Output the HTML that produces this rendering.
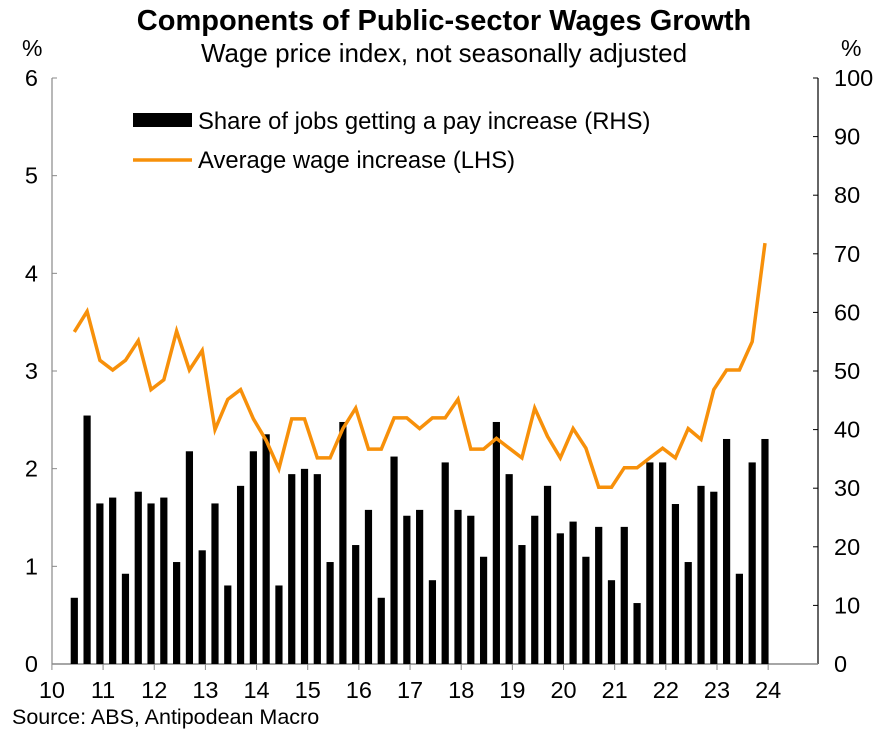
<!DOCTYPE html>
<html><head><meta charset="utf-8"><style>
body{margin:0;background:#fff;font-family:"Liberation Sans",sans-serif;}
</style></head><body>
<svg width="887" height="731" xmlns="http://www.w3.org/2000/svg" font-family="Liberation Sans, sans-serif">
<text x="444" y="30" text-anchor="middle" font-size="29" font-weight="bold">Components of Public-sector Wages Growth</text>
<text x="444" y="62" text-anchor="middle" font-size="26">Wage price index, not seasonally adjusted</text>
<text x="22" y="56" font-size="23">%</text>
<text x="841" y="56" font-size="23">%</text>
<g id="axes"></g>
<g id="bars"></g>
<g id="line"></g>
<g>
<rect x="133" y="113" width="59" height="14" fill="#000"/>
<text x="198" y="129" font-size="23.8">Share of jobs getting a pay increase (RHS)</text>
<line x1="133" y1="160" x2="192" y2="160" stroke="#f7900a" stroke-width="3.5"/>
<text x="198" y="168" font-size="23.8">Average wage increase (LHS)</text>
</g>
<text x="12" y="724" font-size="21.5">Source: ABS, Antipodean Macro</text>
</svg>
<script>
const shareRHS=[11.3,42.4,27.4,28.4,15.4,29.4,27.4,28.4,17.4,36.3,19.4,27.4,13.4,30.4,36.3,39.2,13.4,32.4,33.3,32.4,17.4,41.3,20.3,26.3,11.3,35.4,25.3,26.3,14.3,34.4,26.3,25.3,18.3,41.3,32.4,20.3,25.3,30.4,22.3,24.3,18.3,23.4,14.3,23.4,10.4,34.4,34.4,27.3,17.4,30.4,29.4,38.4,15.4,34.4,38.4];
const wageLHS=[3.40,3.61,3.11,3.01,3.11,3.31,2.81,2.91,3.41,3.01,3.21,2.40,2.71,2.81,2.51,2.29,2.00,2.51,2.51,2.11,2.11,2.41,2.62,2.20,2.20,2.52,2.52,2.41,2.52,2.52,2.71,2.20,2.20,2.31,2.21,2.11,2.62,2.33,2.11,2.41,2.21,1.81,1.81,2.01,2.01,2.11,2.21,2.11,2.41,2.30,2.81,3.01,3.01,3.30,4.31];
const yearLabels=["10","11","12","13","14","15","16","17","18","19","20","21","22","23","24"];
const leftTicks=[0,1,2,3,4,5,6];
const rightTicks=[0,10,20,30,40,50,60,70,80,90,100];
const NS="http://www.w3.org/2000/svg";
const X0=52,X1=818,Y0=664,Y1=78;
const xIdx=i=>74.3+i*12.79;
const yL=v=>Y0-(v/6)*(Y0-Y1);
const yR=v=>Y0-(v/100)*(Y0-Y1);
function mk(tag,attrs,parent){const e=document.createElementNS(NS,tag);for(const k in attrs)e.setAttribute(k,attrs[k]);parent.appendChild(e);return e;}
const axes=document.getElementById('axes');
let e;
e=mk('line',{x1:X0,y1:Y1,x2:X0,y2:Y0,stroke:'#888','stroke-width':1.2},axes);


e=mk('line',{x1:X1,y1:Y1,x2:X1,y2:Y0,stroke:'#000','stroke-width':1.2},axes);


leftTicks.forEach(v=>{
 mk('line',{x1:X0,y1:yL(v),x2:X0+5,y2:yL(v),stroke:'#888'},axes);
 const t=mk('text',{x:38,y:yL(v)+8,'text-anchor':'end','font-size':23.5},axes);t.textContent=v;
 
 
});
rightTicks.forEach(v=>{
 mk('line',{x1:X1-5,y1:yR(v),x2:X1,y2:yR(v),stroke:'#000'},axes);
 const t=mk('text',{x:834,y:yR(v)+8,'font-size':23.5},axes);t.textContent=v;
 
 
});
yearLabels.forEach((lab,k)=>{
 const x=xIdx(-1.75+4*k);
 mk('line',{x1:x,y1:Y0,x2:x,y2:Y0+6,stroke:'#888'},axes);
 const t=mk('text',{x:x,y:Y0+34,'text-anchor':'middle','font-size':23.5},axes);t.textContent=lab;
 
 
});
const bars=document.getElementById('bars');
shareRHS.forEach((v,i)=>{
 const r=mk('rect',{x:xIdx(i)-3.6,y:yR(v),width:7.2,height:Y0-yR(v),fill:'#000'},bars);
 
 
});
e=mk('line',{x1:X0,y1:Y0,x2:X1,y2:Y0,stroke:'#888','stroke-width':1.5},axes);


const pts=wageLHS.map((v,i)=>xIdx(i).toFixed(1)+','+yL(v).toFixed(1)).join(' ');
const pl=mk('polyline',{points:pts,fill:'none',stroke:'#f7900a','stroke-width':3.5,'stroke-linejoin':'miter'},document.getElementById('line'));


</script>
</body></html>
